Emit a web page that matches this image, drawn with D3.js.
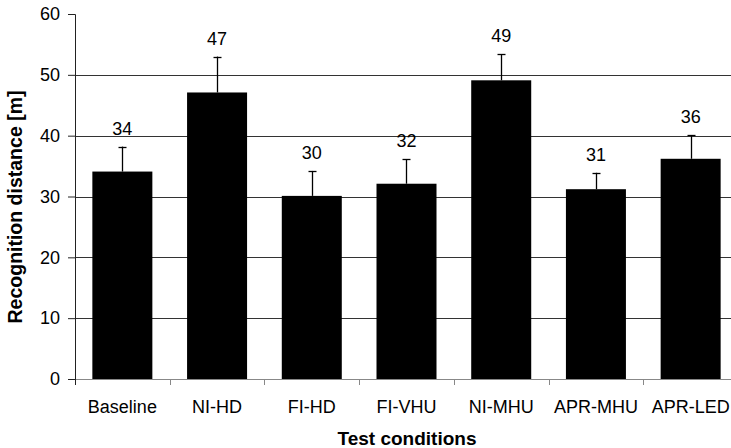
<!DOCTYPE html>
<html>
<head>
<meta charset="utf-8">
<script src="https://cdn.jsdelivr.net/npm/d3@7"></script>
<style>
  body { margin: 0; background: #fff; }
  svg { display: block; font-family: "Liberation Sans", Arial, sans-serif; }
</style>
</head>
<body>
<div id="chart"></div>
<script>
(function() {

// data
var conditions = ["Baseline", "NI-HD", "FI-HD", "FI-VHU", "NI-MHU", "APR-MHU", "APR-LED"];
var means = [34.1, 47.1, 30.1, 32.1, 49.1, 31.2, 36.2];
var errors = [4.1, 5.9, 4.1, 4.0, 4.3, 2.7, 3.9];
var yTicks = [0, 10, 20, 30, 40, 50, 60];

var W = 731, H = 448;
var margin = {top: 14, right: -7, bottom: 69, left: 75},
    width = W - margin.left - margin.right,
    height = H - margin.top - margin.bottom;

var svg = d3.select("#chart").append("svg")
    .attr("width", W)
    .attr("height", H);

var g = svg.append("g")
    .attr("transform", "translate(" + margin.left + "," + margin.top + ")");

var x = d3.scaleBand()
    .domain(conditions)
    .range([0, width]);

var y = d3.scaleLinear()
    .domain([0, 60])
    .range([height, 0]);

var barW = 60;

// gridlines (none at the top value)
g.selectAll(".grid")
    .data(yTicks.filter(function(d) { return d > 0 && d < 60; }))
  .enter().append("line")
    .attr("class", "grid")
    .attr("x1", 0)
    .attr("x2", width)
    .attr("y1", function(d) { return Math.round(y(d)) + 0.5; })
    .attr("y2", function(d) { return Math.round(y(d)) + 0.5; })
    .style("stroke", "#333")
    .style("stroke-width", 1);

// bars
g.selectAll(".bar")
    .data(conditions)
  .enter().append("rect")
    .attr("class", "bar")
    .attr("x", function(d) { return x(d) + x.bandwidth() / 2 - barW / 2; })
    .attr("width", barW)
    .attr("y", function(d, i) { return y(means[i]); })
    .attr("height", function(d, i) { return height - y(means[i]); })
    .style("fill", "#000");

// error bars (upper only)
var err = g.selectAll(".err")
    .data(conditions)
  .enter().append("g")
    .attr("class", "err")
    .attr("transform", function(d) { return "translate(" + (Math.round(x(d) + x.bandwidth() / 2) + 0.5) + ",0)"; });

err.append("line")
    .attr("x1", 0).attr("x2", 0)
    .attr("y1", function(d, i) { return y(means[i]); })
    .attr("y2", function(d, i) { return y(means[i] + errors[i]); })
    .style("stroke", "#000")
    .style("stroke-width", 1.3);

err.append("line")
    .attr("x1", -4).attr("x2", 4)
    .attr("y1", function(d, i) { return Math.round(y(means[i] + errors[i])) + 0.5; })
    .attr("y2", function(d, i) { return Math.round(y(means[i] + errors[i])) + 0.5; })
    .style("stroke", "#000")
    .style("stroke-width", 1.3);

// value labels
g.selectAll(".val")
    .data(conditions)
  .enter().append("text")
    .attr("class", "val")
    .attr("x", function(d) { return x(d) + x.bandwidth() / 2; })
    .attr("y", function(d, i) { return y(means[i] + errors[i]) - 12; })
    .attr("text-anchor", "middle")
    .style("font-size", "18px")
    .text(function(d, i) { return d3.format(".0f")(means[i]); });

// y axis
var yAxis = g.append("g")
    .call(d3.axisLeft(y).tickValues(yTicks).tickSize(7).tickPadding(8));
yAxis.select(".domain").style("stroke", "#222");
yAxis.selectAll(".tick line").style("stroke", "#222");
yAxis.selectAll(".tick text")
    .style("font-size", "18px")
    .style("fill", "#000");

// x axis
var xAxis = g.append("g")
    .attr("transform", "translate(0," + height + ")")
    .call(d3.axisBottom(x).tickSize(0).tickPadding(21));
xAxis.select(".domain").style("stroke", "#888");
xAxis.selectAll(".tick text")
    .style("font-size", "18px")
    .style("fill", "#000");

// category separators
g.selectAll(".sep")
    .data(conditions)
  .enter().append("line")
    .attr("class", "sep")
    .attr("x1", function(d) { return Math.round(x(d)) + 0.5; })
    .attr("x2", function(d) { return Math.round(x(d)) + 0.5; })
    .attr("y1", height)
    .attr("y2", height + 6)
    .style("stroke", function(d, i) { return i === 0 ? "#222" : "#888"; });

svg.selectAll("g[font-family]").attr("font-family", null);

// axis titles
svg.append("text")
    .attr("x", margin.left + 332)
    .attr("y", 445)
    .attr("text-anchor", "middle")
    .style("font-size", "19px")
    .style("font-weight", "bold")
    .text("Test conditions");

svg.append("text")
    .attr("transform", "translate(22,207) rotate(-90)")
    .attr("text-anchor", "middle")
    .style("font-size", "19.5px")
    .style("font-weight", "bold")
    .text("Recognition distance [m]");

})()
</script>
</body>
</html>
